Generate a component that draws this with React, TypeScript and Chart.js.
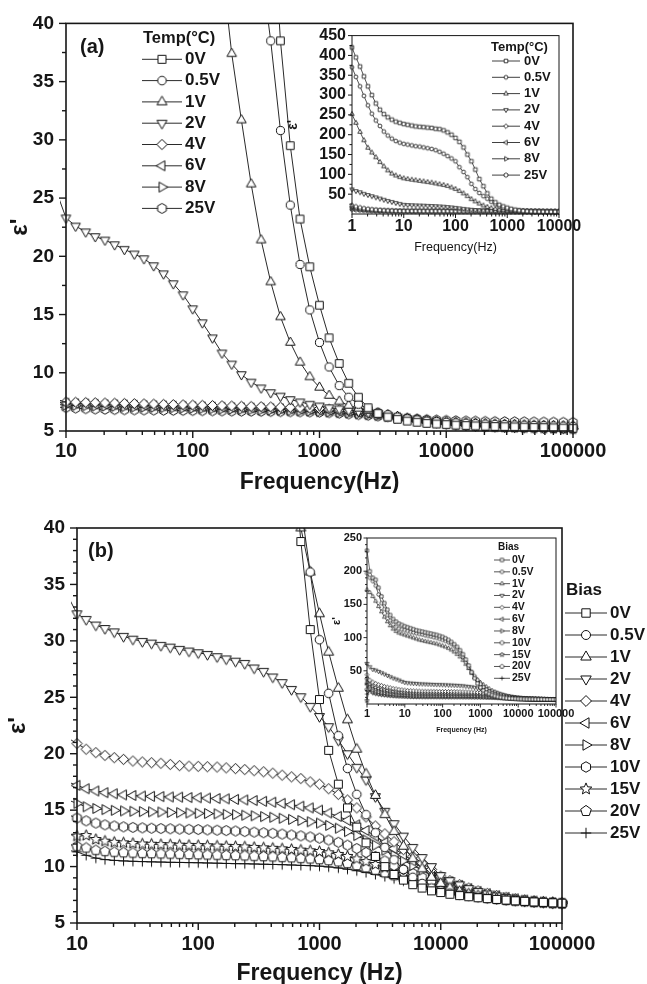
import React, { useEffect, useRef } from 'react';
import { Chart, registerables } from 'chart.js';

Chart.register(...registerables);

const FONT = '"Liberation Sans", Arial, Helvetica, sans-serif';
const INK = '#161616';
const LINE = '#2a2a2a';

// Measurement frequencies (Hz), 13 points per decade
const FREQ = [
  1, 1.19, 1.43, 1.7, 2.03, 2.42, 2.89, 3.46, 4.12, 4.92, 5.88, 7.02, 8.38,
  10, 11.9, 14.3, 17.0, 20.3, 24.2, 28.9, 34.6, 41.2, 49.2, 58.8, 70.2, 83.8,
  100, 119, 143, 170, 203, 242, 289, 346, 412, 492, 588, 702, 838,
  1000, 1190, 1430, 1700, 2030, 2420, 2890, 3460, 4120, 4920, 5880, 7020, 8380,
  10000, 11900, 14300, 17000, 20300, 24200, 28900, 34600, 41200, 49200, 58800, 70200, 83800,
  100000,
];

// ---------- Panel (a) ----------
const A_LABELS = ['0V', '0.5V', '1V', '2V', '4V', '6V', '8V', '25V'];
const A_SHAPES = ['square', 'circle', 'triangle', 'triangleDown', 'diamond', 'triangleLeft', 'triangleRight', 'hexagon'];

const A_0V = [
  420, 395, 372, 347, 322, 300, 279, 263, 252, 244, 238, 233, 230,
  227, 225, 223, 221, 220, 219, 218, 217, 215, 214, 211, 206, 200,
  192, 182, 168, 150, 133, 112, 88, 70, 52, 38.5, 29.5, 23.2, 19.1,
  15.8, 13.0, 10.8, 9.1, 7.9, 7.0, 6.5, 6.2, 6.0, 5.85, 5.75, 5.65, 5.6,
  5.55, 5.5, 5.47, 5.44, 5.41, 5.39, 5.37, 5.35, 5.33, 5.31, 5.29, 5.27, 5.25,
  5.23,
];
const A_05V = [
  370, 346, 322, 298, 274, 253, 236, 222, 208, 198, 190, 184, 180,
  177, 175, 173, 171, 170, 168, 166, 164, 161, 157, 152, 146, 140,
  133, 118, 106, 93, 76, 63, 53, 45, 38.5, 30.8, 24.4, 19.3, 15.4,
  12.6, 10.5, 8.9, 7.9, 7.3, 6.9, 6.6, 6.4, 6.2, 6.05, 5.95, 5.85, 5.8,
  5.75, 5.7, 5.67, 5.63, 5.6, 5.57, 5.55, 5.52, 5.5, 5.48, 5.46, 5.44, 5.42,
  5.4,
];
const A_1V = [
  252, 230, 207, 186, 167, 155, 143, 131, 120, 110, 102, 97, 93,
  90, 88, 86.5, 85, 83.5, 82, 80.5, 79, 77, 75, 73, 70.5, 67,
  63, 58, 52, 45, 37.4, 31.7, 26.2, 21.4, 17.8, 14.8, 12.6, 10.9, 9.65,
  8.75, 8.05, 7.55, 7.2, 6.95, 6.75, 6.55, 6.4, 6.25, 6.1, 6.0, 5.9, 5.85,
  5.8, 5.75, 5.7, 5.67, 5.63, 5.6, 5.57, 5.55, 5.52, 5.5, 5.48, 5.46, 5.44,
  5.42,
];
const A_2V = [
  62, 58, 55, 51, 48, 45, 42, 39, 36, 33, 30.5, 28, 25.6,
  23.3, 22.6, 22.1, 21.7, 21.4, 21.0, 20.6, 20.2, 19.8, 19.2, 18.5, 17.65, 16.7,
  15.5, 14.3, 13.0, 11.7, 10.75, 9.85, 9.2, 8.7, 8.3, 8.0, 7.7, 7.5, 7.3,
  7.15, 7.0, 6.9, 6.8, 6.7, 6.6, 6.5, 6.35, 6.2, 6.05, 5.9, 5.8, 5.7,
  5.6, 5.52, 5.47, 5.42, 5.38, 5.35, 5.32, 5.3, 5.28, 5.26, 5.24, 5.22, 5.2,
  5.18,
];
const A_4V = [
  22, 19, 16.5, 14.5, 13, 11.8, 10.8, 10, 9.3, 8.8, 8.4, 8.0, 7.7,
  7.5, 7.48, 7.46, 7.44, 7.42, 7.4, 7.38, 7.36, 7.34, 7.32, 7.3, 7.28, 7.26,
  7.24, 7.22, 7.2, 7.18, 7.16, 7.14, 7.12, 7.1, 7.08, 7.06, 7.03, 7.0, 6.97,
  6.93, 6.88, 6.82, 6.75, 6.66, 6.56, 6.45, 6.33, 6.2, 6.07, 5.95, 5.84, 5.74,
  5.65, 5.57, 5.5, 5.45, 5.41, 5.37, 5.34, 5.31, 5.29, 5.27, 5.25, 5.23, 5.21,
  5.19,
];
const A_6V = [
  18, 15.5, 13.5, 12, 11, 10.2, 9.5, 9.0, 8.6, 8.2, 7.9, 7.7, 7.5,
  7.4, 7.36, 7.33, 7.3, 7.28, 7.26, 7.24, 7.22, 7.2, 7.18, 7.16, 7.14, 7.12,
  7.1, 7.08, 7.06, 7.04, 7.02, 7.0, 6.98, 6.96, 6.94, 6.92, 6.9, 6.87, 6.84,
  6.8, 6.76, 6.71, 6.65, 6.58, 6.5, 6.4, 6.29, 6.17, 6.05, 5.93, 5.82, 5.72,
  5.63, 5.55, 5.49, 5.44, 5.4, 5.36, 5.33, 5.3, 5.28, 5.26, 5.24, 5.22, 5.2,
  5.18,
];
const A_8V = [
  15, 13, 11.6, 10.6, 9.8, 9.2, 8.7, 8.3, 8.0, 7.75, 7.55, 7.4, 7.3,
  7.2, 7.17, 7.15, 7.13, 7.11, 7.09, 7.07, 7.05, 7.03, 7.01, 6.99, 6.97, 6.95,
  6.93, 6.91, 6.89, 6.87, 6.85, 6.83, 6.81, 6.79, 6.77, 6.75, 6.73, 6.71, 6.68,
  6.65, 6.61, 6.57, 6.52, 6.46, 6.39, 6.31, 6.22, 6.12, 6.02, 5.92, 5.82, 5.73,
  5.65, 5.57, 5.51, 5.46, 5.41, 5.37, 5.34, 5.31, 5.29, 5.27, 5.25, 5.23, 5.21,
  5.19,
];
const A_25V = [
  12, 10.8, 9.9, 9.2, 8.6, 8.2, 7.9, 7.65, 7.45, 7.3, 7.2, 7.12, 7.06,
  7.0, 6.95, 6.9, 6.87, 6.85, 6.83, 6.81, 6.8, 6.79, 6.78, 6.77, 6.76, 6.75,
  6.74, 6.73, 6.72, 6.71, 6.7, 6.69, 6.68, 6.67, 6.66, 6.65, 6.64, 6.63, 6.62,
  6.6, 6.56, 6.51, 6.45, 6.39, 6.33, 6.27, 6.21, 6.15, 6.09, 6.04, 6.0, 5.96,
  5.93, 5.9, 5.88, 5.86, 5.84, 5.83, 5.82, 5.81, 5.8, 5.79, 5.78, 5.77, 5.76,
  5.75,
];
const A_VALUES = [A_0V, A_05V, A_1V, A_2V, A_4V, A_6V, A_8V, A_25V];

// ---------- Panel (b) ----------
const B_LABELS = ['0V', '0.5V', '1V', '2V', '4V', '6V', '8V', '10V', '15V', '20V', '25V'];
const B_SHAPES = ['square', 'circle', 'triangle', 'triangleDown', 'diamond', 'triangleLeft', 'triangleRight', 'hexagon', 'star', 'pentagon', 'plus'];

const B_0V = [
  231, 200, 190, 187, 175, 162, 152, 142, 134, 128, 124, 121, 119,
  117, 115.5, 114, 112.5, 111, 110, 109, 108, 107, 106, 105, 104, 102.5,
  101, 99, 96.5, 93.5, 90, 86, 81, 75, 67, 58, 48, 38.8, 31,
  24.8, 20.3, 17.3, 15.2, 13.5, 12.1, 10.9, 10.0, 9.3, 8.8, 8.4, 8.1, 7.85,
  7.7, 7.55, 7.43, 7.33, 7.24, 7.16, 7.09, 7.03, 6.97, 6.92, 6.87, 6.83, 6.79,
  6.75,
];
const B_05V = [
  197, 190, 185, 178, 165, 152, 143, 134, 126, 120, 116, 113.5, 112.5,
  111.5, 110, 108.5, 107.5, 106.5, 105.5, 104.5, 103.5, 102.5, 101.5, 100.5, 99.5, 98,
  96.5, 95, 93, 90.5, 87, 83, 78, 71, 63, 55, 48, 42, 36.1,
  30.1, 25.35, 21.6, 18.7, 16.4, 14.6, 13.0, 11.7, 10.6, 9.75, 9.05, 8.5, 8.1,
  7.85, 7.65, 7.48, 7.35, 7.25, 7.16, 7.09, 7.03, 6.97, 6.92, 6.87, 6.83, 6.79,
  6.75,
];
const B_1V = [
  172, 168, 162, 155, 147, 139, 131, 124, 118, 113, 109.5, 107, 105.5,
  104, 102.5, 101, 99.5, 98, 96.5, 95.5, 94.5, 93.5, 92.5, 91.5, 90.5, 89,
  87.5, 86, 84, 81.5, 78.5, 75, 71, 66, 60, 53.5, 46.5, 40, 36.1,
  32.4, 29.0, 25.8, 23.0, 20.4, 18.2, 16.3, 14.6, 13.1, 11.8, 10.7, 9.8, 9.05,
  8.5, 8.1, 7.8, 7.58, 7.42, 7.29, 7.18, 7.09, 7.01, 6.94, 6.88, 6.83, 6.79,
  6.75,
];
const B_2V = [
  61, 56, 52, 51, 49, 47, 45, 43, 41, 39, 37.5, 36, 34,
  32.4, 31.9, 31.4, 31.1, 30.8, 30.4, 30.15, 29.95, 29.8, 29.6, 29.45, 29.25, 29.1,
  28.95, 28.8, 28.6, 28.4, 28.2, 28.0, 27.6, 27.3, 26.8, 26.3, 25.7, 25.05, 24.2,
  23.3, 22.4, 21.2, 20.0, 18.8, 17.7, 16.2, 14.9, 13.8, 12.7, 11.7, 10.8, 10.0,
  9.2, 8.75, 8.38, 8.05, 7.8, 7.58, 7.4, 7.25, 7.12, 7.01, 6.92, 6.85, 6.79,
  6.74,
];
const B_4V = [
  44, 36, 33, 31, 29, 28, 26.5, 25.5, 24.5, 23.5, 22.8, 22, 21.4,
  20.9, 20.4, 20.1, 19.85, 19.65, 19.5, 19.35, 19.27, 19.2, 19.15, 19.05, 18.95, 18.9,
  18.88, 18.85, 18.82, 18.75, 18.68, 18.6, 18.5, 18.4, 18.28, 18.1, 17.95, 17.8, 17.5,
  17.3, 16.9, 16.4, 15.9, 15.2, 14.4, 13.6, 12.9, 12.2, 11.5, 10.9, 10.3, 9.75,
  9.15, 8.75, 8.4, 8.1, 7.85, 7.63, 7.44, 7.28, 7.15, 7.04, 6.94, 6.86, 6.8,
  6.75,
];
const B_6V = [
  38, 30, 27, 25, 23.5, 22.3, 21.3, 20.4, 19.6, 19, 18.4, 17.9, 17.5,
  17.2, 16.9, 16.7, 16.55, 16.45, 16.35, 16.3, 16.25, 16.22, 16.2, 16.17, 16.15, 16.12,
  16.1, 16.07, 16.03, 16.0, 15.95, 15.9, 15.85, 15.78, 15.7, 15.6, 15.48, 15.35, 15.2,
  15.0, 14.75, 14.45, 14.1, 13.7, 13.2, 12.7, 12.15, 11.6, 11.05, 10.5, 10.0, 9.55,
  9.0, 8.65, 8.33, 8.05, 7.8, 7.6, 7.42, 7.27, 7.14, 7.03, 6.94, 6.86, 6.8,
  6.75,
];
const B_8V = [
  33, 26, 24, 22, 21, 20, 19.2, 18.4, 17.8, 17.2, 16.7, 16.3, 15.9,
  15.6, 15.3, 15.15, 15.05, 14.98, 14.93, 14.9, 14.87, 14.85, 14.83, 14.8, 14.78, 14.75,
  14.72, 14.7, 14.67, 14.63, 14.6, 14.55, 14.5, 14.43, 14.37, 14.28, 14.18, 14.08, 13.97,
  13.85, 13.65, 13.4, 13.1, 12.75, 12.35, 11.9, 11.45, 11.0, 10.55, 10.1, 9.7, 9.3,
  8.9, 8.57, 8.27, 8.0, 7.77, 7.57, 7.4, 7.25, 7.13, 7.02, 6.93, 6.86, 6.8,
  6.75,
];
const B_10V = [
  30, 24, 21.5, 20, 19, 18.2, 17.4, 16.8, 16.2, 15.7, 15.3, 14.9, 14.6,
  14.3, 14.05, 13.85, 13.7, 13.6, 13.52, 13.47, 13.43, 13.4, 13.37, 13.35, 13.32, 13.3,
  13.28, 13.25, 13.22, 13.19, 13.15, 13.1, 13.05, 13.0, 12.95, 12.88, 12.8, 12.72, 12.63,
  12.52, 12.35, 12.15, 11.9, 11.6, 11.25, 10.9, 10.5, 10.1, 9.75, 9.4, 9.05, 8.75,
  8.45, 8.2, 7.97, 7.76, 7.57, 7.41, 7.27, 7.15, 7.05, 6.96, 6.89, 6.83, 6.78,
  6.74,
];
const B_15V = [
  5, 28, 20, 18, 17, 16, 15.4, 14.8, 14.3, 13.9, 13.5, 13.2, 12.9,
  12.7, 12.75, 12.4, 12.25, 12.15, 12.1, 12.05, 12.0, 11.98, 11.95, 11.93, 11.9, 11.88,
  11.86, 11.84, 11.82, 11.8, 11.77, 11.74, 11.7, 11.66, 11.62, 11.57, 11.52, 11.46, 11.4,
  11.33, 11.22, 11.08, 10.9, 10.68, 10.44, 10.18, 9.9, 9.6, 9.3, 9.0, 8.72, 8.45,
  8.2, 7.98, 7.78, 7.6, 7.44, 7.3, 7.18, 7.08, 6.99, 6.92, 6.86, 6.81, 6.77,
  6.73,
];
const B_20V = [
  22, 26, 18, 16.5, 15.5, 14.8, 14.2, 13.7, 13.2, 12.8, 12.5, 12.2, 12.0,
  11.8, 11.65, 11.45, 11.35, 11.28, 11.23, 11.2, 11.17, 11.15, 11.13, 11.11, 11.09, 11.07,
  11.05, 11.03, 11.01, 10.99, 10.97, 10.95, 10.92, 10.89, 10.86, 10.82, 10.78, 10.73, 10.68,
  10.62, 10.53, 10.42, 10.28, 10.1, 9.9, 9.68, 9.45, 9.2, 8.95, 8.7, 8.46, 8.23,
  8.0, 7.81, 7.64, 7.48, 7.34, 7.22, 7.11, 7.02, 6.95, 6.89, 6.84, 6.8, 6.76,
  6.72,
];
const B_25V = [
  15, 20, 16, 15, 14.2, 13.6, 13.1, 12.7, 12.3, 12.0, 11.8, 11.6, 11.45,
  11.3, 11.0, 10.75, 10.62, 10.55, 10.5, 10.47, 10.44, 10.42, 10.4, 10.38, 10.37, 10.35,
  10.34, 10.32, 10.3, 10.28, 10.26, 10.25, 10.23, 10.21, 10.19, 10.17, 10.14, 10.11, 10.08,
  10.04, 9.97, 9.88, 9.77, 9.63, 9.47, 9.3, 9.12, 8.93, 8.73, 8.53, 8.33, 8.13,
  7.94, 7.76, 7.6, 7.45, 7.32, 7.2, 7.1, 7.02, 6.95, 6.89, 6.84, 6.8, 6.76,
  6.72,
];
const B_VALUES = [B_0V, B_05V, B_1V, B_2V, B_4V, B_6V, B_8V, B_10V, B_15V, B_20V, B_25V];

// ---------- Tick labels ----------
const MAIN_X_TICKS = [10, 100, 1000, 10000, 100000];
const A_INSET_X_TICKS = [1, 10, 100, 1000, 10000];
const B_INSET_X_TICKS = [1, 10, 100, 1000, 10000, 100000];
const MAIN_Y_TICKS = [5, 10, 15, 20, 25, 30, 35, 40];
const A_INSET_Y_TICKS = [50, 100, 150, 200, 250, 300, 350, 400, 450];
const B_INSET_Y_TICKS = [50, 100, 150, 200, 250];

function logMinor(decades: number[]) {
  const out: number[] = [];
  for (let i = 0; i < decades.length - 1; i++) for (let m = 2; m <= 9; m++) out.push(decades[i] * m);
  return out;
}
function linMinor(min: number, max: number, step: number, major: number) {
  const out: number[] = [];
  for (let v = min; v <= max + 1e-9; v += step) {
    const r = Math.round(v * 100) / 100;
    if (Math.abs(r / major - Math.round(r / major)) > 1e-6) out.push(r);
  }
  return out;
}

// ---------- Markers ----------
const markerCache = new Map<string, HTMLCanvasElement>();
function markerCanvas(shape: string, size: number, lw: number): HTMLCanvasElement {
  const key = shape + '|' + size + '|' + lw;
  const hit = markerCache.get(key);
  if (hit) return hit;
  const dim = Math.ceil(size * 1.3 + lw * 2 + 2);
  const c = document.createElement('canvas');
  c.width = dim;
  c.height = dim;
  const g = c.getContext('2d') as CanvasRenderingContext2D;
  const cx = dim / 2;
  const cy = dim / 2;
  g.lineWidth = lw;
  g.strokeStyle = '#111';
  g.fillStyle = '#fff';
  const D = Math.PI / 180;
  const poly = (n: number, R: number, start: number) => {
    g.beginPath();
    for (let k = 0; k < n; k++) {
      const a = start + (k * 2 * Math.PI) / n;
      const px = cx + R * Math.cos(a);
      const py = cy + R * Math.sin(a);
      if (k === 0) g.moveTo(px, py);
      else g.lineTo(px, py);
    }
    g.closePath();
  };
  let fill = true;
  switch (shape) {
    case 'square': {
      const h = size * 0.4;
      g.beginPath();
      g.rect(cx - h, cy - h, 2 * h, 2 * h);
      break;
    }
    case 'circle':
      g.beginPath();
      g.arc(cx, cy, size * 0.43, 0, 2 * Math.PI);
      break;
    case 'triangle':
      poly(3, size * 0.577, -90 * D);
      break;
    case 'triangleDown':
      poly(3, size * 0.577, 90 * D);
      break;
    case 'triangleLeft':
      poly(3, size * 0.577, 180 * D);
      break;
    case 'triangleRight':
      poly(3, size * 0.577, 0);
      break;
    case 'diamond':
      poly(4, size * 0.52, -90 * D);
      break;
    case 'hexagon':
      poly(6, size * 0.5, -90 * D);
      break;
    case 'pentagon':
      poly(5, size * 0.53, -90 * D);
      break;
    case 'star': {
      g.beginPath();
      for (let k = 0; k < 10; k++) {
        const R = k % 2 ? size * 0.26 : size * 0.58;
        const a = -90 * D + k * 36 * D;
        const px = cx + R * Math.cos(a);
        const py = cy + R * Math.sin(a);
        if (k === 0) g.moveTo(px, py);
        else g.lineTo(px, py);
      }
      g.closePath();
      break;
    }
    case 'plus': {
      fill = false;
      const h = size * 0.5;
      g.beginPath();
      g.moveTo(cx - h, cy);
      g.lineTo(cx + h, cy);
      g.moveTo(cx, cy - h);
      g.lineTo(cx, cy + h);
      break;
    }
    default:
      break;
  }
  if (fill) g.fill();
  g.stroke();
  markerCache.set(key, c);
  return c;
}

// ---------- Panel configs ----------
const A_SERIES = A_LABELS.map((label, i) => ({ label, shape: A_SHAPES[i], data: A_VALUES[i] }));
const B_SERIES = B_LABELS.map((label, i) => ({ label, shape: B_SHAPES[i], data: B_VALUES[i] }));

const MAIN_A = {
  left: 0, top: 0, width: 647, height: 493,
  padding: { left: 0, top: 18, right: 74, bottom: 0 },
  yAxisWidth: 66, xAxisHeight: 62,
  xMin: 10, xMax: 100000, xTicks: MAIN_X_TICKS, xMinor: logMinor(MAIN_X_TICKS),
  yMin: 5, yMax: 40, yTicks: MAIN_Y_TICKS, yMinor: linMinor(5, 40, 2.5, 5),
  yTickSize: 19, xTickSize: 20, yTickPad: 12, xTickPad: 8,
  xTitle: 'Frequency(Hz)', xTitleSize: 23, xTitleWeight: 'bold', xTitlePad: -3,
  yTitle: "ε'", yTitleSize: 24, yTitlePad: 6,
  series: A_SERIES, markerSize: 9.5, markerLw: 1, lineWidth: 1,
  majorLen: 7, minorLen: 4, frameWidth: 1.6, tickWidth: 1.4,
  clip: { left: 6, top: 0, right: 6, bottom: 6 },
  legend: {
    title: 'Temp(°C)', titleSize: 16.5, titleX: 143, titleY: 38,
    size: 17, y0: 59.3, dy: 21.3, x1: 142, x2: 182, mx: 162, tx: 185,
    marker: 10, markerLw: 1, lineWidth: 1,
    items: A_SERIES,
  },
  tag: { text: '(a)', x: 80, y: 47, size: 20 },
};

const INSET_A = {
  left: 280, top: 20, width: 310, height: 240,
  padding: { left: 0, top: 12, right: 31, bottom: 0 },
  yAxisWidth: 72, xAxisHeight: 46,
  xMin: 1, xMax: 10000, xTicks: A_INSET_X_TICKS, xMinor: logMinor(A_INSET_X_TICKS),
  yMin: 0, yMax: 450, yTicks: A_INSET_Y_TICKS, yMinor: linMinor(25, 425, 50, 1000),
  yTickSize: 16, xTickSize: 16, yTickPad: 6, xTickPad: 3,
  xTitle: 'Frequency(Hz)', xTitleSize: 12.5, xTitleWeight: 'normal', xTitlePad: 5,
  yTitle: "ε'", yTitleSize: 14, yTitlePad: 4.5,
  series: A_SERIES, markerSize: 4.5, markerLw: 0.8, lineWidth: 0.8,
  majorLen: 4, minorLen: 2.5, frameWidth: 1, tickWidth: 1,
  clip: { left: 3, top: 0, right: 0, bottom: 3 },
  legend: {
    title: 'Temp(°C)', titleSize: 13, titleX: 211, titleY: 27,
    size: 13, y0: 41, dy: 16.3, x1: 212, x2: 240, mx: 226, tx: 244,
    marker: 4.5, markerLw: 0.8, lineWidth: 0.9,
    items: A_SERIES,
  },
  tag: null,
};

const MAIN_B = {
  left: 0, top: 500, width: 647, height: 484,
  padding: { left: 0, top: 28, right: 85, bottom: 0 },
  yAxisWidth: 77, xAxisHeight: 61,
  xMin: 10, xMax: 100000, xTicks: MAIN_X_TICKS, xMinor: logMinor(MAIN_X_TICKS),
  yMin: 5, yMax: 40, yTicks: MAIN_Y_TICKS, yMinor: linMinor(5, 40, 1, 5),
  yTickSize: 19, xTickSize: 20, yTickPad: 12, xTickPad: 9,
  xTitle: 'Frequency (Hz)', xTitleSize: 23, xTitleWeight: 'bold', xTitlePad: -3,
  yTitle: "ε'", yTitleSize: 24, yTitlePad: 4,
  series: B_SERIES, markerSize: 10, markerLw: 1, lineWidth: 1,
  majorLen: 7, minorLen: 4, frameWidth: 1.6, tickWidth: 1.4,
  clip: { left: 6, top: 0, right: 6, bottom: 6 },
  legend: {
    title: 'Bias', titleSize: 17, titleX: 566, titleY: 90,
    size: 17, y0: 113, dy: 22, x1: 565, x2: 607, mx: 586, tx: 610,
    marker: 10.5, markerLw: 1, lineWidth: 1,
    items: B_SERIES,
  },
  tag: { text: '(b)', x: 88, y: 51, size: 20 },
};

const INSET_B = {
  left: 320, top: 525, width: 270, height: 215,
  padding: { left: 0, top: 13, right: 34, bottom: 0 },
  yAxisWidth: 47, xAxisHeight: 36,
  xMin: 1, xMax: 100000, xTicks: B_INSET_X_TICKS, xMinor: logMinor(B_INSET_X_TICKS),
  yMin: 0, yMax: 250, yTicks: B_INSET_Y_TICKS, yMinor: linMinor(0, 250, 10, 50),
  yTickSize: 11, xTickSize: 11, yTickPad: 5, xTickPad: 3,
  xTitle: 'Frequency (Hz)', xTitleSize: 7, xTitleWeight: 'bold', xTitlePad: 5.5,
  yTitle: "ε'", yTitleSize: 11, yTitlePad: 10,
  series: B_SERIES, markerSize: 4, markerLw: 0.7, lineWidth: 0.7,
  majorLen: 3.5, minorLen: 2, frameWidth: 1, tickWidth: 0.9,
  clip: { left: 3, top: 0, right: 0, bottom: 3 },
  legend: {
    title: 'Bias', titleSize: 10, titleX: 178, titleY: 22,
    size: 10.5, y0: 35, dy: 11.83, x1: 174, x2: 190, mx: 182, tx: 192,
    marker: 4.2, markerLw: 0.7, lineWidth: 0.8,
    items: B_SERIES,
  },
  tag: null,
};

function decorPlugin(cfg: any) {
  return {
    id: 'decor',
    afterDraw(chart: any) {
      const { ctx, chartArea: ca } = chart;
      const xs = chart.scales.x;
      const ys = chart.scales.y;
      ctx.save();
      const seg = (x1: number, y1: number, x2: number, y2: number) => {
        ctx.beginPath();
        ctx.moveTo(x1, y1);
        ctx.lineTo(x2, y2);
        ctx.stroke();
      };
      ctx.strokeStyle = INK;
      ctx.lineWidth = cfg.tickWidth;
      cfg.yTicks.forEach((v: number) => {
        const p = ys.getPixelForValue(v);
        seg(ca.left - cfg.majorLen, p, ca.left, p);
      });
      cfg.yMinor.forEach((v: number) => {
        const p = ys.getPixelForValue(v);
        seg(ca.left - cfg.minorLen, p, ca.left, p);
      });
      cfg.xTicks.forEach((v: number) => {
        const p = xs.getPixelForValue(v);
        seg(p, ca.bottom, p, ca.bottom + cfg.majorLen);
      });
      cfg.xMinor.forEach((v: number) => {
        const p = xs.getPixelForValue(v);
        seg(p, ca.bottom, p, ca.bottom + cfg.minorLen);
      });
      ctx.lineWidth = cfg.frameWidth;
      ctx.strokeRect(ca.left, ca.top, ca.right - ca.left, ca.bottom - ca.top);

      const L = cfg.legend;
      if (L) {
        ctx.fillStyle = INK;
        ctx.textBaseline = 'middle';
        ctx.textAlign = 'left';
        ctx.font = `bold ${L.titleSize}px ${FONT}`;
        ctx.fillText(L.title, L.titleX, L.titleY);
        ctx.font = `bold ${L.size}px ${FONT}`;
        L.items.forEach((it: any, k: number) => {
          const y = L.y0 + k * L.dy;
          ctx.strokeStyle = LINE;
          ctx.lineWidth = L.lineWidth;
          seg(L.x1, y, L.x2, y);
          const m = markerCanvas(it.shape, L.marker, L.markerLw);
          ctx.drawImage(m, L.mx - m.width / 2, y - m.height / 2);
          ctx.fillText(it.label, L.tx, y);
        });
      }
      const T = cfg.tag;
      if (T) {
        ctx.fillStyle = INK;
        ctx.textBaseline = 'middle';
        ctx.textAlign = 'left';
        ctx.font = `bold ${T.size}px ${FONT}`;
        ctx.fillText(T.text, T.x, T.y);
      }
      ctx.restore();
    },
  };
}

function buildConfig(cfg: any): any {
  return {
    type: 'line',
    data: {
      datasets: cfg.series.map((s: any) => ({
        label: s.label,
        data: FREQ.map((f, i) => ({ x: f, y: s.data[i] })),
        borderColor: LINE,
        borderWidth: cfg.lineWidth,
        pointStyle: markerCanvas(s.shape, cfg.markerSize, cfg.markerLw),
        pointRadius: cfg.markerSize / 2,
        pointHoverRadius: cfg.markerSize / 2,
        fill: false,
        tension: 0,
        clip: cfg.clip,
      })),
    },
    options: {
      responsive: false,
      maintainAspectRatio: false,
      animation: false,
      devicePixelRatio: 1,
      events: [],
      layout: { padding: cfg.padding },
      plugins: {
        legend: { display: false },
        tooltip: { enabled: false },
        title: { display: false },
      },
      scales: {
        x: {
          type: 'logarithmic',
          min: cfg.xMin,
          max: cfg.xMax,
          afterBuildTicks: (s: any) => {
            s.ticks = cfg.xTicks.map((v: number) => ({ value: v }));
          },
          afterFit: (s: any) => {
            s.height = cfg.xAxisHeight;
          },
          grid: { display: false, drawTicks: false },
          border: { display: false },
          ticks: {
            autoSkip: false,
            maxRotation: 0,
            minRotation: 0,
            padding: cfg.xTickPad,
            color: INK,
            font: { family: FONT, size: cfg.xTickSize, weight: 'bold' },
            callback: (v: any) => String(v),
          },
          title: {
            display: true,
            text: cfg.xTitle,
            color: INK,
            font: { family: FONT, size: cfg.xTitleSize, weight: cfg.xTitleWeight },
            padding: { top: 0, bottom: cfg.xTitlePad },
          },
        },
        y: {
          type: 'linear',
          min: cfg.yMin,
          max: cfg.yMax,
          afterBuildTicks: (s: any) => {
            s.ticks = cfg.yTicks.map((v: number) => ({ value: v }));
          },
          afterFit: (s: any) => {
            s.width = cfg.yAxisWidth;
          },
          grid: { display: false, drawTicks: false },
          border: { display: false },
          ticks: {
            autoSkip: false,
            padding: cfg.yTickPad,
            color: INK,
            font: { family: FONT, size: cfg.yTickSize, weight: 'bold' },
            callback: (v: any) => String(v),
          },
          title: {
            display: true,
            text: cfg.yTitle,
            color: INK,
            font: { family: FONT, size: cfg.yTitleSize, weight: 'bold' },
            padding: { top: cfg.yTitlePad, bottom: 0 },
          },
        },
      },
    },
    plugins: [decorPlugin(cfg)],
  };
}

function ChartCanvas({ cfg }: { cfg: any }) {
  const ref = useRef<HTMLCanvasElement | null>(null);
  useEffect(() => {
    if (!ref.current) return;
    const chart = new Chart(ref.current, buildConfig(cfg));
    return () => chart.destroy();
  }, [cfg]);
  return (
    <canvas
      ref={ref}
      width={cfg.width}
      height={cfg.height}
      style={{ position: 'absolute', left: cfg.left, top: cfg.top, width: cfg.width, height: cfg.height }}
    />
  );
}

export default function App() {
  return (
    <div style={{ position: 'absolute', left: 0, top: 0, width: 647, height: 984, background: '#fff', overflow: 'hidden' }}>
      <ChartCanvas cfg={MAIN_A} />
      <ChartCanvas cfg={INSET_A} />
      <ChartCanvas cfg={MAIN_B} />
      <ChartCanvas cfg={INSET_B} />
    </div>
  );
}
